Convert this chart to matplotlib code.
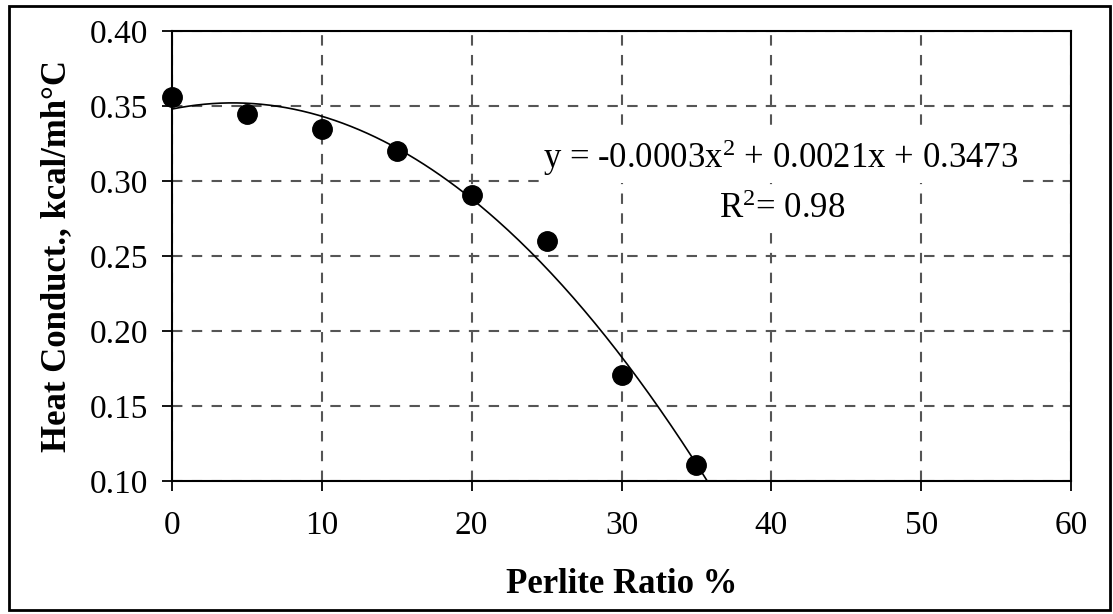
import matplotlib.pyplot as plt
import numpy as np
from matplotlib.patches import Rectangle

plt.rcParams['font.family'] = ['Liberation Serif', 'DejaVu Serif']
plt.rcParams['mathtext.fontset'] = 'custom'
plt.rcParams['mathtext.rm'] = 'Liberation Serif'
plt.rcParams['mathtext.it'] = 'Liberation Serif:italic'

# data
perlite = [0, 5, 10, 15, 20, 25, 30, 35]
conduct = [0.356, 0.345, 0.335, 0.320, 0.291, 0.260, 0.171, 0.111]

x_ticks = [0, 10, 20, 30, 40, 50, 60]
y_ticks = [0.10, 0.15, 0.20, 0.25, 0.30, 0.35, 0.40]

fig = plt.figure(figsize=(11.13, 6.14), dpi=100)
ax = fig.add_axes([172/1113, 1 - 481/614, (1071-172)/1113, (481-31)/614])

# second order trend line (as in the spreadsheet)
coef = np.polyfit(perlite, conduct, 2)
xs = np.linspace(0, 36, 200)
ax.plot(xs, np.polyval(coef, xs), color='black', linewidth=1.2, zorder=3)

ax.plot(perlite, conduct, 'o', color='black', markersize=14, zorder=4, clip_on=False)

ax.set_xlim(0, 60)
ax.set_ylim(0.10, 0.40)
ax.set_xticks(x_ticks)
ax.set_yticks(y_ticks)
ax.set_yticklabels(['%.2f' % v for v in y_ticks])
ax.tick_params(direction='out', length=7, width=1.3, labelsize=24)
ax.tick_params(axis='x', pad=14)
ax.tick_params(axis='y', pad=10)

ax.grid(True, linestyle=(0, (5, 4.5)), color='#555555', linewidth=1.5)
for s in ax.spines.values():
    s.set_linewidth(1.5)
    s.set_color('black')

ax.set_xlabel('Perlite Ratio %', fontsize=25, fontweight='bold', labelpad=20)
ax.set_ylabel('Heat Conduct., kcal/mh°C', fontsize=25, fontweight='bold', labelpad=12)

ax.text((781-172)/899, (481-158)/450, 'y = -0.0003x$^{2}$ + 0.0021x + 0.3473', fontsize=25,
        ha='center', va='center', transform=ax.transAxes, zorder=5,
        bbox=dict(facecolor='white', edgecolor='none', pad=3))
ax.text((782-172)/899, (481-210)/450, 'R$^{2}$= 0.98', fontsize=25,
        ha='center', va='center', transform=ax.transAxes, zorder=5,
        bbox=dict(facecolor='white', edgecolor='none', pad=2))

# outer frame
fig.patches.append(Rectangle((9/1113, 1 - 610/614), (1110-9)/1113, (610-6)/614,
                             transform=fig.transFigure, fill=False,
                             edgecolor='black', linewidth=2))

fig.savefig('out.png', dpi=100)
